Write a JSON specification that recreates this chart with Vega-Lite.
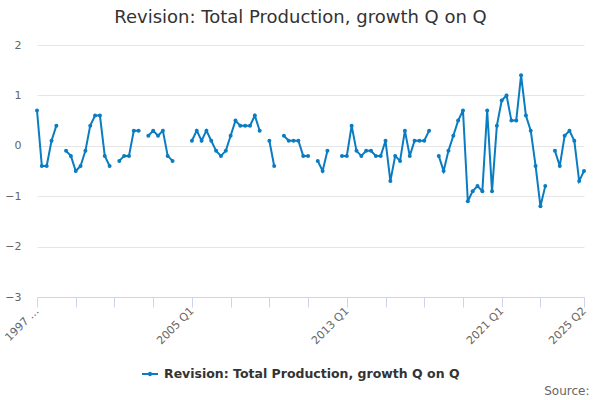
{
  "$schema": "https://vega.github.io/schema/vega-lite/v6.json",
  "width": 547,
  "height": 252,
  "autosize": {"type": "none"},
  "padding": {"left": 37, "top": 45, "right": 16, "bottom": 103},
  "background": "white",
  "title": {
    "text": "Revision: Total Production, growth Q on Q",
    "fontSize": 18,
    "fontWeight": "normal",
    "color": "#333333",
    "anchor": "middle",
    "dx": -10,
    "offset": 12
  },
  "data": {
    "values": [
      {"quarter": "1997 Q1", "value": 0.7},
      {"quarter": "1997 Q2", "value": -0.4},
      {"quarter": "1997 Q3", "value": -0.4},
      {"quarter": "1997 Q4", "value": 0.1},
      {"quarter": "1998 Q1", "value": 0.4},
      {"quarter": "1998 Q2", "value": null},
      {"quarter": "1998 Q3", "value": -0.1},
      {"quarter": "1998 Q4", "value": -0.2},
      {"quarter": "1999 Q1", "value": -0.5},
      {"quarter": "1999 Q2", "value": -0.4},
      {"quarter": "1999 Q3", "value": -0.1},
      {"quarter": "1999 Q4", "value": 0.4},
      {"quarter": "2000 Q1", "value": 0.6},
      {"quarter": "2000 Q2", "value": 0.6},
      {"quarter": "2000 Q3", "value": -0.2},
      {"quarter": "2000 Q4", "value": -0.4},
      {"quarter": "2001 Q1", "value": null},
      {"quarter": "2001 Q2", "value": -0.3},
      {"quarter": "2001 Q3", "value": -0.2},
      {"quarter": "2001 Q4", "value": -0.2},
      {"quarter": "2002 Q1", "value": 0.3},
      {"quarter": "2002 Q2", "value": 0.3},
      {"quarter": "2002 Q3", "value": null},
      {"quarter": "2002 Q4", "value": 0.2},
      {"quarter": "2003 Q1", "value": 0.3},
      {"quarter": "2003 Q2", "value": 0.2},
      {"quarter": "2003 Q3", "value": 0.3},
      {"quarter": "2003 Q4", "value": -0.2},
      {"quarter": "2004 Q1", "value": -0.3},
      {"quarter": "2004 Q2", "value": null},
      {"quarter": "2004 Q3", "value": null},
      {"quarter": "2004 Q4", "value": null},
      {"quarter": "2005 Q1", "value": 0.1},
      {"quarter": "2005 Q2", "value": 0.3},
      {"quarter": "2005 Q3", "value": 0.1},
      {"quarter": "2005 Q4", "value": 0.3},
      {"quarter": "2006 Q1", "value": 0.1},
      {"quarter": "2006 Q2", "value": -0.1},
      {"quarter": "2006 Q3", "value": -0.2},
      {"quarter": "2006 Q4", "value": -0.1},
      {"quarter": "2007 Q1", "value": 0.2},
      {"quarter": "2007 Q2", "value": 0.5},
      {"quarter": "2007 Q3", "value": 0.4},
      {"quarter": "2007 Q4", "value": 0.4},
      {"quarter": "2008 Q1", "value": 0.4},
      {"quarter": "2008 Q2", "value": 0.6},
      {"quarter": "2008 Q3", "value": 0.3},
      {"quarter": "2008 Q4", "value": null},
      {"quarter": "2009 Q1", "value": 0.1},
      {"quarter": "2009 Q2", "value": -0.4},
      {"quarter": "2009 Q3", "value": null},
      {"quarter": "2009 Q4", "value": 0.2},
      {"quarter": "2010 Q1", "value": 0.1},
      {"quarter": "2010 Q2", "value": 0.1},
      {"quarter": "2010 Q3", "value": 0.1},
      {"quarter": "2010 Q4", "value": -0.2},
      {"quarter": "2011 Q1", "value": -0.2},
      {"quarter": "2011 Q2", "value": null},
      {"quarter": "2011 Q3", "value": -0.3},
      {"quarter": "2011 Q4", "value": -0.5},
      {"quarter": "2012 Q1", "value": -0.1},
      {"quarter": "2012 Q2", "value": null},
      {"quarter": "2012 Q3", "value": null},
      {"quarter": "2012 Q4", "value": -0.2},
      {"quarter": "2013 Q1", "value": -0.2},
      {"quarter": "2013 Q2", "value": 0.4},
      {"quarter": "2013 Q3", "value": -0.1},
      {"quarter": "2013 Q4", "value": -0.2},
      {"quarter": "2014 Q1", "value": -0.1},
      {"quarter": "2014 Q2", "value": -0.1},
      {"quarter": "2014 Q3", "value": -0.2},
      {"quarter": "2014 Q4", "value": -0.2},
      {"quarter": "2015 Q1", "value": 0.1},
      {"quarter": "2015 Q2", "value": -0.7},
      {"quarter": "2015 Q3", "value": -0.2},
      {"quarter": "2015 Q4", "value": -0.3},
      {"quarter": "2016 Q1", "value": 0.3},
      {"quarter": "2016 Q2", "value": -0.2},
      {"quarter": "2016 Q3", "value": 0.1},
      {"quarter": "2016 Q4", "value": 0.1},
      {"quarter": "2017 Q1", "value": 0.1},
      {"quarter": "2017 Q2", "value": 0.3},
      {"quarter": "2017 Q3", "value": null},
      {"quarter": "2017 Q4", "value": -0.2},
      {"quarter": "2018 Q1", "value": -0.5},
      {"quarter": "2018 Q2", "value": -0.1},
      {"quarter": "2018 Q3", "value": 0.2},
      {"quarter": "2018 Q4", "value": 0.5},
      {"quarter": "2019 Q1", "value": 0.7},
      {"quarter": "2019 Q2", "value": -1.1},
      {"quarter": "2019 Q3", "value": -0.9},
      {"quarter": "2019 Q4", "value": -0.8},
      {"quarter": "2020 Q1", "value": -0.9},
      {"quarter": "2020 Q2", "value": 0.7},
      {"quarter": "2020 Q3", "value": -0.9},
      {"quarter": "2020 Q4", "value": 0.4},
      {"quarter": "2021 Q1", "value": 0.9},
      {"quarter": "2021 Q2", "value": 1.0},
      {"quarter": "2021 Q3", "value": 0.5},
      {"quarter": "2021 Q4", "value": 0.5},
      {"quarter": "2022 Q1", "value": 1.4},
      {"quarter": "2022 Q2", "value": 0.6},
      {"quarter": "2022 Q3", "value": 0.3},
      {"quarter": "2022 Q4", "value": -0.4},
      {"quarter": "2023 Q1", "value": -1.2},
      {"quarter": "2023 Q2", "value": -0.8},
      {"quarter": "2023 Q3", "value": null},
      {"quarter": "2023 Q4", "value": -0.1},
      {"quarter": "2024 Q1", "value": -0.4},
      {"quarter": "2024 Q2", "value": 0.2},
      {"quarter": "2024 Q3", "value": 0.3},
      {"quarter": "2024 Q4", "value": 0.1},
      {"quarter": "2025 Q1", "value": -0.7},
      {"quarter": "2025 Q2", "value": -0.5}
    ]
  },
  "encoding": {
    "x": {
      "field": "quarter",
      "type": "ordinal",
      "sort": null,
      "scale": {"type": "point", "padding": 0},
      "axis": {
        "values": ["1997 Q1", "1999 Q1", "2001 Q1", "2003 Q1", "2005 Q1", "2007 Q1", "2009 Q1", "2011 Q1", "2013 Q1", "2015 Q1", "2017 Q1", "2019 Q1", "2021 Q1", "2023 Q1", "2025 Q2"],
        "labelExpr": "datum.value == '1997 Q1' ? '1997 \u2026' : (indexof(['2005 Q1', '2013 Q1', '2021 Q1', '2025 Q2'], datum.value) >= 0 ? datum.value : '')",
        "labelAngle": -45,
        "labelAlign": "right",
        "labelBaseline": "middle",
        "labelPadding": 2,
        "labelOverlap": false,
        "labelBound": false,
        "labelFlush": false,
        "labelColor": "#666666",
        "labelFontSize": 11,
        "grid": false,
        "domainColor": "#ccd6eb",
        "tickColor": "#ccd6eb",
        "tickSize": 10,
        "title": "Source:",
        "titleX": 552,
        "titleY": 93,
        "titleAlign": "right",
        "titleBaseline": "middle",
        "titleAngle": 0,
        "titleColor": "#666666",
        "titleFontWeight": "normal",
        "titleFontSize": 12
      }
    },
    "y": {
      "field": "value",
      "type": "quantitative",
      "scale": {"domain": [-3, 2], "nice": false, "zero": false},
      "axis": {
        "values": [-3, -2, -1, 0, 1, 2],
        "title": null,
        "domain": false,
        "ticks": false,
        "tickSize": 0,
        "labelPadding": 16,
        "labelColor": "#666666",
        "labelFontSize": 11,
        "gridColor": "#e6e6e6"
      }
    },
    "color": {
      "datum": "Revision: Total Production, growth Q on Q",
      "type": "nominal",
      "scale": {"range": ["#0a7cc1"]},
      "legend": {
        "title": null,
        "orient": "none",
        "legendX": 104,
        "legendY": 320,
        "symbolType": "M-1,0H1M-0.15,0A0.15,0.15,0,1,1,0.15,0A0.15,0.15,0,1,1,-0.15,0",
        "symbolSize": 256,
        "symbolStrokeWidth": 2,
        "labelFontWeight": "bold",
        "labelFontSize": 12.5,
        "labelColor": "#333333",
        "labelLimit": 500,
        "labelOffset": 5
      }
    }
  },
  "layer": [
    {
      "mark": {"type": "line", "strokeWidth": 2, "invalid": "break-paths-filter-domains"}
    },
    {
      "mark": {"type": "point", "filled": true, "size": 16, "opacity": 1}
    }
  ],
  "config": {
    "font": "DejaVu Sans",
    "view": {"stroke": null}
  }
}
